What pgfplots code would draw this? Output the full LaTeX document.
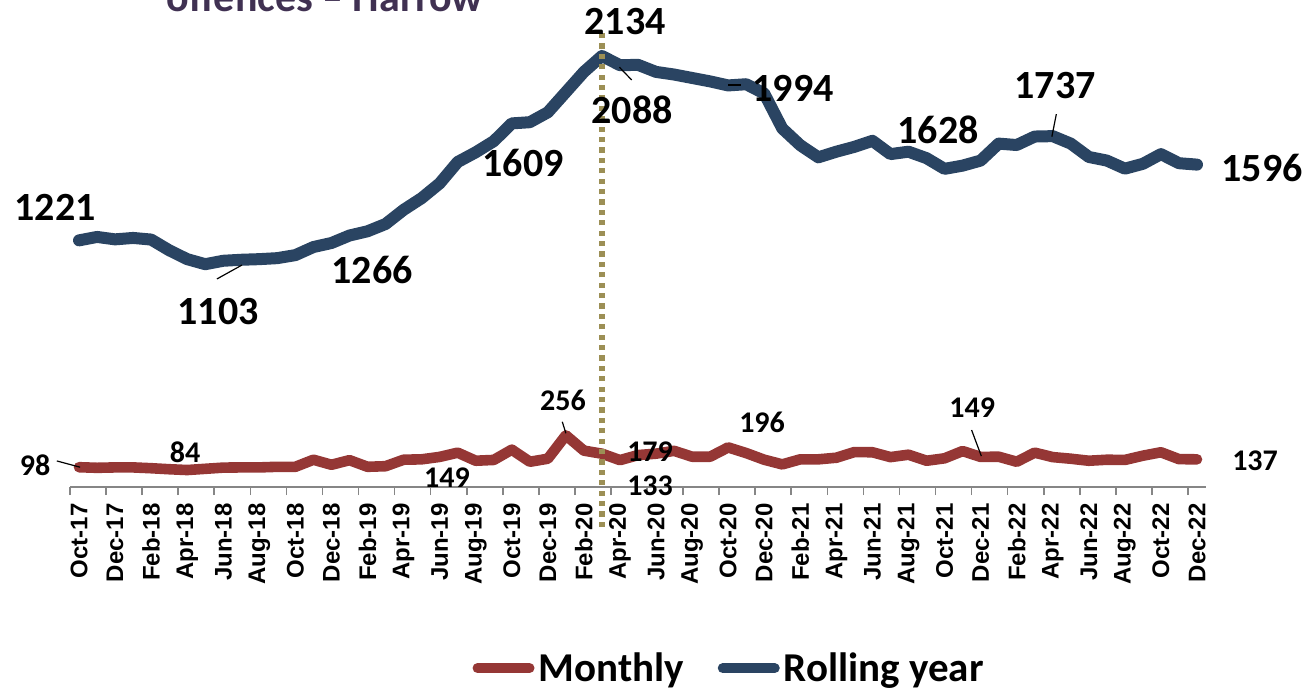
\documentclass[border=0pt]{standalone}
\usepackage{fontspec}
\setmainfont{Carlito}
\newfontfamily\arialfont{Liberation Sans}
\usepackage{pgfplots}
\pgfplotsset{compat=1.18}
\usepackage{pgfplotstable}
\definecolor{blueline}{HTML}{2A4462}
\definecolor{redline}{HTML}{953735}
\definecolor{dotline}{HTML}{9C8F55}
\definecolor{axisgrey}{HTML}{868686}
\definecolor{titlecol}{HTML}{403152}

\pgfplotstableread{
x monthly rolling
0 98 1221
1 95 1238
2 97 1226
3 97 1233
4 93 1225
5 88 1172
6 84 1128
7 90 1103
8 96 1120
9 97 1125
10 97 1128
11 100 1133
12 100 1148
13 135 1188
14 110 1208
15 133 1245
16 100 1266
17 103 1302
18 135 1372
19 137 1430
20 149 1503
21 170 1609
22 130 1657
23 134 1712
24 185 1800
25 125 1806
26 140 1855
27 256 1955
28 180 2055
29 165 2134
30 133 2088
31 158 2090
32 165 2055
33 179 2042
34 150 2025
35 150 2008
36 196 1988
37 168 1994
38 135 1948
39 112 1775
40 137 1692
41 137 1632
42 145 1660
43 173 1684
44 172 1714
45 148 1648
46 160 1660
47 130 1628
48 142 1575
49 178 1591
50 149 1616
51 150 1700
52 125 1693
53 170 1735
54 148 1737
55 140 1700
56 130 1634
57 135 1616
58 134 1576
59 155 1600
60 172 1648
61 138 1603
62 137 1596
}\datatable

\begin{document}
\begin{tikzpicture}
\begin{axis}[name=ax,
  scale only axis, width=568pt, height=243.5pt,
  xmin=-0.5, xmax=62.5, ymin=0, ymax=2411,
  axis x line=bottom, axis y line=none,
  axis line style={axisgrey, line width=1pt, -},
  xtick={0,2,...,62},
  xticklabels={Oct-17,Dec-17,Feb-18,Apr-18,Jun-18,Aug-18,Oct-18,Dec-18,Feb-19,Apr-19,Jun-19,Aug-19,Oct-19,Dec-19,Feb-20,Apr-20,Jun-20,Aug-20,Oct-20,Dec-20,Feb-21,Apr-21,Jun-21,Aug-21,Oct-21,Dec-21,Feb-22,Apr-22,Jun-22,Aug-22,Oct-22,Dec-22},
  major tick length=0pt,
  minor xtick={-0.5,1.5,...,61.5},
  minor tick length=4pt,
  tick align=outside,
  minor tick style={axisgrey, line width=0.8pt},
  xticklabel style={rotate=90, anchor=east, font=\arialfont\fontsize{12}{14}\selectfont\bfseries, inner sep=0pt, xshift=-8pt},
  clip=false,
  legend columns=2,
  legend style={at={(0.581,-0.372)}, anchor=center, draw=none, fill=none,
    font=\fontsize{20.5}{24}\selectfont\bfseries, inner sep=0pt,
    /tikz/every even column/.append style={column sep=15pt}},
  legend image code/.code={\draw[#1, line width=5pt, line cap=round] (2.5pt,0pt) -- (28.5pt,0pt);},
]
\addplot[redline, line width=5.3pt, line join=round, line cap=round] table[x=x, y=monthly] {\datatable};
\addlegendentry{Monthly}
\addplot[blueline, line width=6pt, line join=round, line cap=round] table[x=x, y=rolling] {\datatable};
\addlegendentry{Rolling year}
\addplot[dotline, line width=2.6pt, dash pattern=on 2.6pt off 2.6pt, forget plot] coordinates {(29,-198) (29,2247)};

% rolling year labels
\begin{scope}[every node/.style={font=\fontsize{20}{24}\selectfont\bfseries, inner sep=0pt, anchor=center}]
\node at (axis cs:-1.33,1386) {1221};
\node at (axis cs:7.71,871) {1103};
\node at (axis cs:16.25,1074) {1266};
\node at (axis cs:24.63,1604) {1609};
\node at (axis cs:30.28,2302) {2134};
\node at (axis cs:30.67,1866) {2088};
\node at (axis cs:39.6,1975) {1994};
\node at (axis cs:47.64,1767) {1628};
\node at (axis cs:54.13,1990) {1737};
\node at (axis cs:65.61,1579) {1596};
\end{scope}
\draw[black, line width=0.6pt] (axis cs:7.65,1030) -- (axis cs:9.04,1099);
\draw[black, line width=0.6pt] (axis cs:29.97,2078) -- (axis cs:30.65,2015);
\draw[black, line width=0.6pt] (axis cs:36.0,1990) -- (axis cs:36.7,1990);
\draw[black, line width=0.6pt] (axis cs:54.2,1846) -- (axis cs:53.95,1734);

% monthly labels
\begin{scope}[every node/.style={font=\fontsize{15}{18}\selectfont\bfseries, inner sep=0pt, anchor=center}]
\node at (axis cs:-2.44,109) {98};
\node at (axis cs:5.88,173) {84};
\node at (axis cs:20.41,45) {149};
\node at (axis cs:26.84,431) {256};
\node at (axis cs:31.67,173) {179};
\node at (axis cs:31.67,5) {133};
\node at (axis cs:37.88,322) {196};
\node at (axis cs:49.53,391) {149};
\node at (axis cs:65.22,129) {137};
\end{scope}
\draw[black, line width=0.6pt] (axis cs:-1.23,129) -- (axis cs:0.06,98);
\draw[black, line width=0.6pt] (axis cs:26.8,323) -- (axis cs:27.0,266);
\draw[black, line width=0.6pt] (axis cs:49.5,282) -- (axis cs:50.04,153);
\end{axis}
\node[titlecol, font=\fontsize{21}{24}\selectfont\bfseries, anchor=base, inner sep=0pt] at ([xshift=127.5pt,yshift=-6pt]ax.north west) {offences – Harrow};
\pgfresetboundingbox
\path[use as bounding box] ([xshift=-35pt,yshift=-101pt]ax.south west) rectangle ([xshift=50.5pt]ax.north east);
\end{tikzpicture}
\end{document}
